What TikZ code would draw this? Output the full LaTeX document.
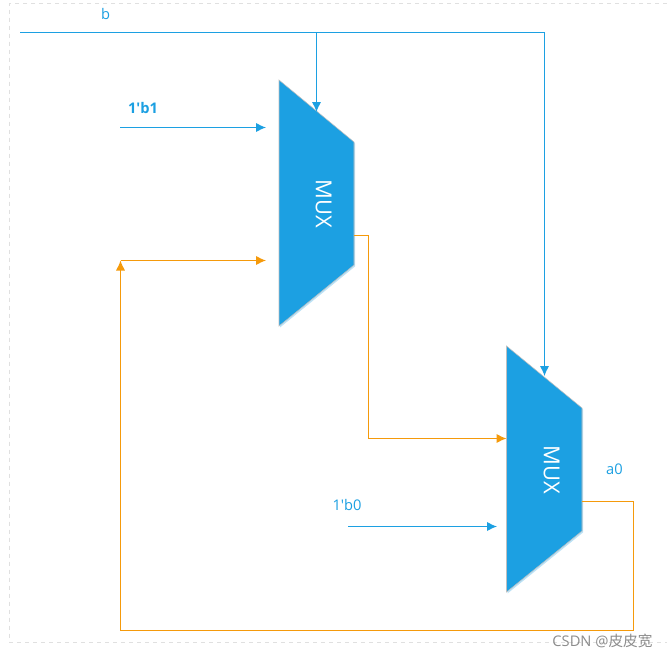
\documentclass[tikz,border=0pt]{standalone}
\usepackage{fontspec}
\setmainfont{Open Sans}
\newfontfamily\cjkfont{Noto Sans CJK SC}
\usetikzlibrary{arrows.meta}
\definecolor{muxblue}{HTML}{1CA0E2}
\definecolor{wireorange}{HTML}{F59A0B}
\tikzset{
	muxshape/.style={fill=muxblue,draw=black!25,line width=0.4pt},
	muxshadow/.style={fill=muxblue!30,draw=none,xshift=0.75pt,yshift=-1.1pt},
	muxtext/.style={text=white,rotate=-90,font=\fontsize{16.5}{16}\selectfont},
	bluewire/.style={draw=muxblue,line width=0.9pt},
	orangewire/.style={draw=wireorange,line width=0.9pt},
	arrowend/.style={-{Latex[length=7.5pt,width=7pt]}},
	wiretext/.style={text=muxblue,font=\fontsize{11}{11}\selectfont},
	framepart/.style={draw=black!12,dashed,line width=0.5pt}
}
\begin{document}
\begin{tikzpicture}[x=0.75pt,y=-0.75pt]
	\useasboundingbox (0,0) rectangle (667,658);
	\fill[white] (0,0) rectangle (667,658);
	\draw[framepart] (667,3) -- (9.5,3) -- (9.5,642) -- (667,642);

	% first mux
	\fill[muxshadow] (279,80) -- (354,142) -- (354,265) -- (279,326) -- cycle;
	\draw[muxshape] (279,80) -- (354,142) -- (354,265) -- (279,326) -- cycle;
	\node[muxtext] (muxa) at (323.5,204) {MUX};
	\coordinate (muxaout) at (354,235.5);
	% second mux
	\fill[muxshadow] (506.5,346) -- (582,408) -- (582,531) -- (506.5,592) -- cycle;
	\draw[muxshape] (506.5,346) -- (582,408) -- (582,531) -- (506.5,592) -- cycle;
	\node[muxtext] (muxb) at (551.5,470) {MUX};
	\coordinate (muxbout) at (582,501.5);

	% free ends
	\coordinate (bstart) at (20,32.5);
	\coordinate (bsplit) at (316.5,32.5);
	\coordinate (bcorner) at (544.5,32.5);
	\coordinate (bina) at (316.5,112);
	\coordinate (binb) at (544.5,376);
	\coordinate (onestart) at (120,127.5);
	\coordinate (oneend) at (266,127.5);
	\coordinate (zerostart) at (348,526.5);
	\coordinate (zeroend) at (497,526.5);
	\coordinate (loopturn) at (120.5,260.5);
	\coordinate (loopend) at (266,260.5);
	\coordinate (feedin) at (506.5,438.5);

	\draw[bluewire] (bstart) -- (bcorner);
	\draw[bluewire,arrowend] (bcorner) -- (binb);
	\draw[bluewire,arrowend] (bsplit) -- (bina);
	\draw[bluewire,arrowend] (onestart) -- (oneend);
	\draw[bluewire,arrowend] (zerostart) -- (zeroend);

	\draw[orangewire,arrowend] (muxaout) -| (368.5,438.5) -- (feedin);
	\draw[orangewire,arrowend] (muxbout) -| (633.5,630.5) -| (loopturn);
	\draw[orangewire,arrowend] (loopturn) -- (loopend);

	\node[wiretext] (blabel) at (105.5,13.5) {b};
	\node[wiretext,font=\fontsize{11}{11}\selectfont\bfseries] (onelabel) at (143,108) {1\textquotesingle b1};
	\node[wiretext] (zerolabel) at (347,505) {1\textquotesingle b0};
	\node[wiretext] (alabel) at (614.5,469) {a0};
	\node[text=black!45,font=\fontsize{11}{11}\selectfont] (mark) at (602.5,641) {CSDN @{\cjkfont 皮皮宽}};
\end{tikzpicture}
\end{document}
